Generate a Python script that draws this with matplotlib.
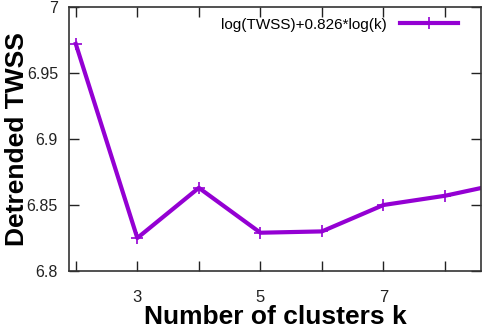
import matplotlib
matplotlib.use("Agg")
import matplotlib.pyplot as plt

k = [2, 3, 4, 5, 6, 7, 8, 9]
detrended = [6.972, 6.825, 6.863, 6.829, 6.830, 6.850, 6.857, 6.867]
xticks_major = [2, 3, 4, 5, 6, 7, 8]
xtick_labels = ["", "3", "", "5", "", "7", ""]
yticks = [6.8, 6.85, 6.9, 6.95, 7.0]
ytick_labels = ["6.8", "6.85", "6.9", "6.95", "7"]
legend_label = "log(TWSS)+0.826*log(k)"

plt.rcParams['font.family'] = ['Liberation Sans', 'DejaVu Sans']

fig = plt.figure(figsize=(4.84, 3.32), dpi=100)
ax = fig.add_axes([0.1426, 0.1837, 0.8512, 0.7953])
color = '#9400D3'
ax.plot(k, detrended, color=color, lw=3.0, marker='+', ms=9, mew=1.2,
        label=legend_label, clip_on=True)
ax.set_xlim(1.89, 8.585)
ax.set_ylim(6.8, 7.0)
ax.set_xticks(xticks_major)
ax.set_xticklabels(xtick_labels)
ax.set_yticks(yticks)
ax.set_yticklabels(ytick_labels)
ax.tick_params(direction='in', length=7, width=1, top=True, right=True,
               labelsize=12, colors='#222222')
ax.tick_params(axis='y', labelsize=11.5, pad=8)
ax.tick_params(axis='x', pad=14)
for s in ax.spines.values():
    s.set_linewidth(1.2)
    s.set_color('#333333')
ax.set_xlabel("Number of clusters k", fontsize=19, fontweight='bold', labelpad=0)
ax.set_ylabel("Detrended TWSS", fontsize=19, fontweight='bold', labelpad=-2)
leg = ax.legend(loc='upper right', bbox_to_anchor=(0.944, 0.96), frameon=False,
                fontsize=11, markerfirst=False, handlelength=3.8,
                borderaxespad=0, borderpad=0, handletextpad=0.85)
fig.savefig("out.png", dpi=100)
